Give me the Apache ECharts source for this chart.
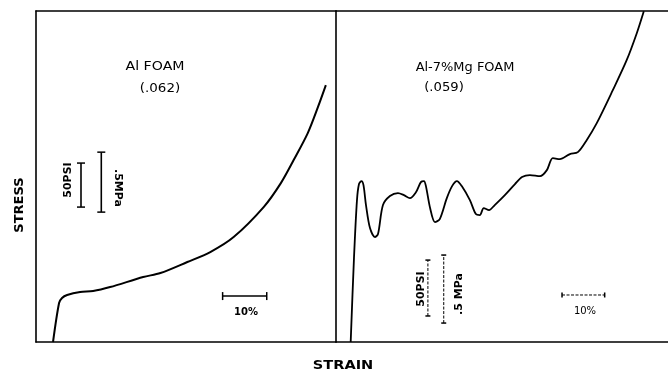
<!DOCTYPE html>
<html><head><meta charset="utf-8">
<script src="https://cdn.jsdelivr.net/npm/echarts@6/dist/echarts.min.js"></script>
<style>html,body{margin:0;padding:0;background:#fff}#c{width:668px;height:373px}</style>
</head><body><div id="c"></div>
<script>
// Strain in %, stress in MPa
const alStrain = [3.86,5.23,5.9,7.05,10.0,12.95,16.8,24.3,28.2,34.3,39.5,44.8,51.6,55.5,58.4,61.6,63.9,65.7];
const alStress = [0,0.325,0.367,0.392,0.417,0.425,0.458,0.542,0.575,0.667,0.75,0.875,1.125,1.325,1.517,1.742,1.958,2.142];

const mgStrain = [3.34,4.09,4.77,5.23,5.8,6.25,6.82,7.73,8.86,9.55,10.68,12.27,14.09,15.45,16.8,18.2,19.3,20.0,20.45,21.4,22.5,23.6,25.2,26.4,27.5,28.6,30.45,31.8,32.7,33.6,34.8,36.1,38.4,40.7,42.3,44.1,46.4,47.95,49.3,50.9,53.2,55.0,57.0,59.3,62.95,66.1,68.4,70.0];
const mgStress = [0,0.70,1.183,1.317,1.342,1.308,1.142,0.95,0.875,0.9,1.142,1.217,1.242,1.225,1.2,1.25,1.333,1.342,1.3,1.117,1.0,1.025,1.2,1.3,1.342,1.3,1.183,1.067,1.058,1.117,1.1,1.142,1.225,1.317,1.375,1.392,1.383,1.433,1.533,1.525,1.567,1.583,1.683,1.825,2.1,2.35,2.575,2.758];

// scale bars: [x1, y1, x2, y2]
const alBarStrain = [42.3,0.383,52.3,0.383];
const alBarPsi = [10.2,1.125,10.2,1.492];
const alBarMpa = [14.8,1.083,14.8,1.583];
const mgBarStrain = [51.4,0.392,61.1,0.392];
const mgBarPsi = [20.9,0.217,20.9,0.683];
const mgBarMpa = [24.5,0.158,24.5,0.725];

const xMaxL = 68, xMaxR = 75.5, yMax = 2.76;

function zip(a,b){return a.map((v,i)=>[v,b[i]]);}
function bar(b){return [[b[0],b[1]],[b[2],b[3]]];}

const chart = echarts.init(document.getElementById('c'));
const axLine = {show:true,lineStyle:{color:'#000',width:1.6}};
function xax(grid,max,pos){return {type:'value',gridIndex:grid,min:0,max:max,position:pos,axisLine:axLine,axisTick:{show:false},axisLabel:{show:false},splitLine:{show:false}};}
function yax(grid){return {type:'value',gridIndex:grid,min:0,max:yMax,axisLine:axLine,axisTick:{show:false},axisLabel:{show:false},splitLine:{show:false}};}

function barSeries(data,xi,yi,horiz,dashed){
  return {type:'line',xAxisIndex:xi,yAxisIndex:yi,data:data,symbol:'rect',
    symbolSize: horiz?[1.5,(dashed?5:8)]:[(dashed?5:8),1.5],showSymbol:true,
    itemStyle:{color:'#000'},
    lineStyle:{color:'#000',width:dashed?1:1.6,type:dashed?[3,1.5]:'solid'},silent:true,animation:false};
}

function txt(x,y,t,font,rot,sx){
  return {type:'text',x:x,y:y,rotation:rot||0,scaleX:sx||1,
    style:{text:t,fill:'#000',font:font||'12px "DejaVu Sans"',textAlign:'center',textVerticalAlign:'middle'}};
}
const R = Math.PI/2;

chart.setOption({
  animation:false,
  grid:[{left:36,top:11,width:300,height:331},{left:336,top:11,width:332,height:331}],
  xAxis:[xax(0,xMaxL,'bottom'),xax(0,xMaxL,'top'),xax(1,xMaxR,'bottom'),xax(1,xMaxR,'top')],
  yAxis:[yax(0),yax(1)],
  series:[
    {type:'line',xAxisIndex:0,yAxisIndex:0,data:zip(alStrain,alStress),smooth:0.3,showSymbol:false,lineStyle:{color:'#000',width:2}},
    {type:'line',xAxisIndex:2,yAxisIndex:1,data:zip(mgStrain,mgStress),smooth:0.3,showSymbol:false,lineStyle:{color:'#000',width:1.8}},
    barSeries(bar(alBarStrain),0,0,true,false),
    barSeries(bar(alBarPsi),0,0,false,false),
    barSeries(bar(alBarMpa),0,0,false,false),
    barSeries(bar(mgBarStrain),2,1,true,true),
    barSeries(bar(mgBarPsi),2,1,false,true),
    barSeries(bar(mgBarMpa),2,1,false,true)
  ],
  graphic:[
    txt(20,205,'STRESS','bold 13px "DejaVu Sans"',R),
    txt(343,366,'STRAIN','bold 13px "DejaVu Sans"',0,1.12),
    txt(155,67,'Al FOAM','12px "DejaVu Sans"',0,1.18),
    txt(160,89,'(.062)','12px "DejaVu Sans"',0,1.12),
    txt(465,68,'Al-7%Mg FOAM','12px "DejaVu Sans"',0,1.08),
    txt(444,88,'(.059)','12px "DejaVu Sans"',0,1.1),
    txt(246,312,'10%','bold 10px "DejaVu Sans"'),
    txt(585,311,'10%','10px "DejaVu Sans"'),
    txt(68,180,'50PSI','bold 11px "DejaVu Sans"',R),
    txt(118,188,'.5MPa','bold 11px "DejaVu Sans"',-R),
    txt(421,289,'50PSI','bold 11px "DejaVu Sans"',R),
    txt(459,294,'.5 MPa','bold 11px "DejaVu Sans"',R)
  ]
});
</script></body></html>
